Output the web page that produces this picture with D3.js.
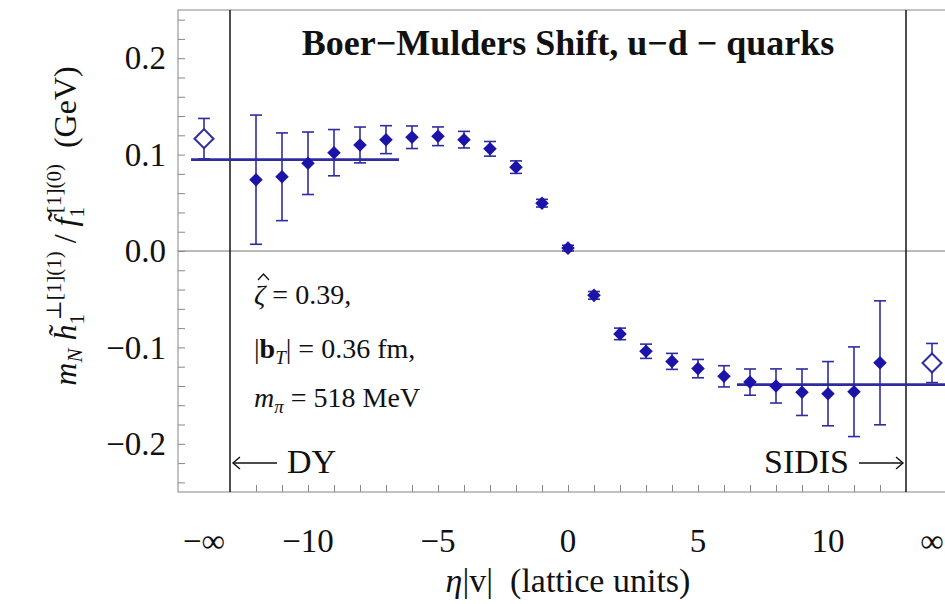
<!DOCTYPE html>
<html>
<head>
<meta charset="utf-8">
<script src="https://cdn.jsdelivr.net/npm/d3@7"></script>
<style>
  body { margin: 0; background: #fff; }
  text { font-family: "Liberation Serif", "DejaVu Serif", serif; fill: #111; white-space: pre; }
</style>
</head>
<body>
<svg id="chart" width="945" height="604"></svg>
<script>
// lattice data, eta|v| steps
const eta = [-12, -11, -10, -9, -8, -7, -6, -5, -4, -3, -2, -1, 0, 1, 2, 3, 4, 5, 6, 7, 8, 9, 10, 11, 12];
const shift = [0.074, 0.077, 0.091, 0.102, 0.110, 0.1155, 0.118, 0.119, 0.1155, 0.106, 0.087, 0.0496, 0.003,
  -0.046, -0.086, -0.104, -0.1145, -0.122, -0.130, -0.136, -0.140, -0.1465, -0.148, -0.146, -0.116];
const shiftErr = [0.067, 0.0455, 0.0324, 0.024, 0.0186, 0.0145, 0.0117, 0.0097, 0.0086, 0.0076, 0.0065, 0.004, 0.003,
  0.004, 0.006, 0.0074, 0.0083, 0.0095, 0.011, 0.0136, 0.0177, 0.0241, 0.0333, 0.0465, 0.0643];

// extrapolated values at eta -> -inf (DY) and +inf (SIDIS)
const limitEta = [-14, 14];
const limitVal = [0.1165, -0.1162];
const limitErr = [0.021, 0.0203];

// plateau fits
const fitRange = [[-14.5, -6.5], [6.5, 14.5]];
const fitVal = [0.0948, -0.1386];

const yTickVals = [0.2, 0.1, 0.0, -0.1, -0.2];
const yTickLabels = ["0.2", "0.1", "0.0", "\u22120.1", "\u22120.2"];
const xTickVals = [-14, -10, -5, 0, 5, 10, 14];
const xTickLabels = ["\u2212\u221e", "\u221210", "\u22125", "0", "5", "10", "\u221e"];

const blue = "#1c13a8";
const barBlue = "#2e2ca0";

const svg = d3.select("#chart");

const x = d3.scaleLinear().domain([-15, 15]).range([178, 958]);
const y = d3.scaleLinear().domain([-0.25, 0.25]).range([492, 10]);

// frame
svg.append("rect")
  .attr("x", x(-15)).attr("y", y(0.25))
  .attr("width", x(15) - x(-15)).attr("height", y(-0.25) - y(0.25))
  .attr("fill", "none").attr("stroke", "#9a9a9a").attr("stroke-width", 1.2);

// zero line
svg.append("line")
  .attr("x1", x(-15)).attr("x2", x(15))
  .attr("y1", y(0)).attr("y2", y(0))
  .attr("stroke", "#777").attr("stroke-width", 1.2);

// ticks
const yAxis = svg.append("g")
  .attr("transform", "translate(" + x(-15) + ",0)")
  .call(d3.axisRight(y).tickValues(d3.range(-0.24, 0.2401, 0.02)).tickSize(7).tickFormat(""));
const xAxis = svg.append("g")
  .attr("transform", "translate(0," + y(-0.25) + ")")
  .call(d3.axisTop(x).tickValues(d3.range(-12, 13)).tickSize(7).tickFormat(""));
[yAxis, xAxis].forEach(g => {
  g.select(".domain").remove();
  g.selectAll(".tick line").attr("stroke", "#888").attr("stroke-width", 1);
});

// tick labels
svg.selectAll(".ylab").data(yTickVals).enter().append("text")
  .attr("x", 166).attr("y", d => y(d)).attr("dy", "0.34em")
  .attr("text-anchor", "end").attr("font-size", 33)
  .text((d, i) => yTickLabels[i]);
svg.selectAll(".xlab").data(xTickVals).enter().append("text")
  .attr("x", d => x(d)).attr("y", 552)
  .attr("text-anchor", "middle").attr("font-size", 33)
  .text((d, i) => xTickLabels[i]);

// DY / SIDIS separators
svg.selectAll(".sep").data([-13, 13]).enter().append("line")
  .attr("x1", d => x(d)).attr("x2", d => x(d))
  .attr("y1", y(0.25)).attr("y2", y(-0.25))
  .attr("stroke", "#222").attr("stroke-width", 1.6);

// fit lines
svg.selectAll(".fit").data(fitVal).enter().append("line")
  .attr("x1", (d, i) => x(fitRange[i][0])).attr("x2", (d, i) => x(fitRange[i][1]))
  .attr("y1", d => y(d)).attr("y2", d => y(d))
  .attr("stroke", barBlue).attr("stroke-width", 2.6);

// error bars
function errorBars(xs, vs, es) {
  const g = svg.append("g").attr("stroke", barBlue).attr("stroke-width", 1.6);
  xs.forEach((e, i) => {
    const cx = x(e), top = y(vs[i] + es[i]), bot = y(vs[i] - es[i]);
    g.append("line").attr("x1", cx).attr("x2", cx).attr("y1", top).attr("y2", bot);
    g.append("line").attr("x1", cx - 6).attr("x2", cx + 6).attr("y1", top).attr("y2", top);
    g.append("line").attr("x1", cx - 6).attr("x2", cx + 6).attr("y1", bot).attr("y2", bot);
  });
}
errorBars(eta, shift, shiftErr);
errorBars(limitEta, limitVal, limitErr);

// points
const diamond = d3.symbol(d3.symbolSquare, 92);
svg.selectAll(".pt").data(eta).enter().append("path")
  .attr("d", diamond)
  .attr("transform", (d, i) => "translate(" + x(d) + "," + y(shift[i]) + ") rotate(45)")
  .attr("fill", blue);
const bigDiamond = d3.symbol(d3.symbolSquare, 180);
svg.selectAll(".lim").data(limitEta).enter().append("path")
  .attr("d", bigDiamond)
  .attr("transform", (d, i) => "translate(" + x(d) + "," + y(limitVal[i]) + ") rotate(45)")
  .attr("fill", "#fff").attr("stroke", barBlue).attr("stroke-width", 2);

// title
svg.append("text")
  .attr("x", x(0)).attr("y", 55)
  .attr("text-anchor", "middle").attr("font-size", 36).attr("font-weight", "bold")
  .text("Boer\u2212Mulders Shift, u\u2212d \u2212 quarks");

// parameter box
const annX = 254;
const ann = svg.append("g").attr("font-size", 28);
const l1 = ann.append("text").attr("x", annX).attr("y", 304);
l1.append("tspan").attr("font-style", "italic").text("\u03b6");
l1.append("tspan").text(" = 0.39,");
// hat over zeta
svg.append("path")
  .attr("d", d3.line()([[annX + 4, 280], [annX + 9.5, 274], [annX + 15, 280]]))
  .attr("fill", "none").attr("stroke", "#111").attr("stroke-width", 1.3);
const l2 = ann.append("text").attr("x", annX).attr("y", 358);
l2.append("tspan").text("|");
l2.append("tspan").attr("font-weight", "bold").text("b");
l2.append("tspan").attr("font-style", "italic").attr("font-size", 19).attr("dy", 6).text("T");
l2.append("tspan").attr("dy", -6).text("| = 0.36 fm,");
const l3 = ann.append("text").attr("x", annX).attr("y", 407);
l3.append("tspan").attr("font-style", "italic").text("m");
l3.append("tspan").attr("font-style", "italic").attr("font-size", 19).attr("dy", 6).text("\u03c0");
l3.append("tspan").attr("dy", -6).text(" = 518 MeV");

// DY / SIDIS arrows
const arrowY = 463;
const arr = svg.append("g").attr("stroke", "#111").attr("stroke-width", 1.4).attr("fill", "none");
arr.append("line").attr("x1", x(-13) + 3).attr("x2", x(-13) + 47).attr("y1", arrowY).attr("y2", arrowY);
arr.append("path").attr("d", d3.line()([[x(-13) + 10, arrowY - 6], [x(-13) + 3, arrowY], [x(-13) + 10, arrowY + 6]]));
arr.append("line").attr("x1", x(13) - 47).attr("x2", x(13) - 3).attr("y1", arrowY).attr("y2", arrowY);
arr.append("path").attr("d", d3.line()([[x(13) - 10, arrowY - 6], [x(13) - 3, arrowY], [x(13) - 10, arrowY + 6]]));
svg.append("text").attr("x", x(-13) + 57).attr("y", 473).attr("font-size", 34).text("DY");
svg.append("text").attr("x", x(13) - 57).attr("y", 473).attr("text-anchor", "end").attr("font-size", 34).text("SIDIS");

// x label
const xl = svg.append("text").attr("x", x(0)).attr("y", 592).attr("text-anchor", "middle").attr("font-size", 34);
xl.append("tspan").attr("font-style", "italic").text("\u03b7");
xl.append("tspan").text("|v|  (lattice units)");

// y label
const yl = svg.append("text")
  .attr("transform", "translate(76,226) rotate(-90)")
  .attr("text-anchor", "middle").attr("font-size", 32);
yl.append("tspan").attr("font-style", "italic").text("m");
yl.append("tspan").attr("font-style", "italic").attr("font-size", 21).attr("dy", 6).text("N");
yl.append("tspan").attr("font-style", "italic").attr("dy", -6).text(" h\u0303");
yl.append("tspan").attr("font-size", 21).attr("dy", 8).text("1");
yl.append("tspan").attr("font-size", 21).attr("dx", -6).attr("dy", -23).text("\u22a5[1](1)");
yl.append("tspan").attr("dy", 15).text(" / ");
yl.append("tspan").attr("font-style", "italic").text("f\u0303");
yl.append("tspan").attr("font-size", 21).attr("dy", 8).text("1");
yl.append("tspan").attr("font-size", 21).attr("dx", -6).attr("dy", -23).text("[1](0)");
yl.append("tspan").attr("dy", 15).text("  (GeV)");
</script>
</body>
</html>
